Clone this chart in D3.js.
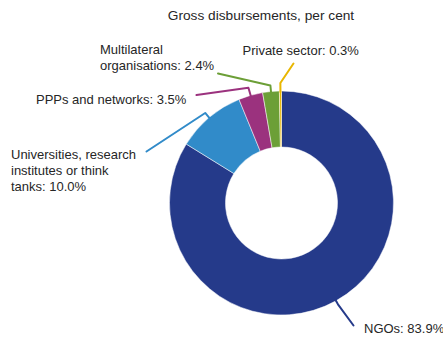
<!DOCTYPE html>
<html>
<head>
<meta charset="utf-8">
<script src="https://cdn.jsdelivr.net/npm/d3@7/dist/d3.min.js"></script>
<style>
  html, body { margin: 0; padding: 0; background: #fff; }
  svg { display: block; }
  text { font-family: "Liberation Sans", Arial, sans-serif; font-size: 13px; fill: #262626; }
</style>
</head>
<body>
<svg id="chart" width="443" height="337"></svg>
<script>
// ---- data ----
const categories = ["NGOs", "Universities, research institutes or think tanks", "PPPs and networks", "Multilateral organisations", "Private sector"];
const values = [83.9, 10.0, 3.5, 2.4, 0.3];
const colors = ["#253a8a", "#318bc9", "#9b327e", "#6c9f37", "#e8b600"];
const labelLines = [
  ["NGOs: 83.9%"],
  ["Universities, research", "institutes or think", "tanks: 10.0%"],
  ["PPPs and networks: 3.5%"],
  ["Multilateral", "organisations: 2.4%"],
  ["Private sector: 0.3%"]
];
const title = "Gross disbursements, per cent";

// ---- layout (positions, not data) ----
const cx = 281.5, cy = 203, outerR = 112, innerR = 56;
// label anchor (x, first baseline), leader end point, elbow length
const labelLayout = [
  { x: 364, y: 333, end: [353.5, 325.5], elbow: 4 },
  { x: 11, y: 158.5, end: [146.5, 151.5], elbow: 6 },
  { x: 36, y: 103.5, end: [196.5, 95], elbow: 8 },
  { x: 100, y: 53.5, end: [218, 73.5], elbow: 6 },
  { x: 242.5, y: 55, end: [293.5, 63.5], elbow: 8 }
];

const svg = d3.select("#chart");

svg.append("text")
  .attr("x", 261).attr("y", 20)
  .attr("text-anchor", "middle")
  .style("font-size", "13.7px")
  .text(title);

const pie = d3.pie().sort(null).value(d => d);
const arcs = pie(values);
const arc = d3.arc().innerRadius(innerR).outerRadius(outerR);

const g = svg.append("g").attr("transform", `translate(${cx},${cy})`);
g.selectAll("path.slice")
  .data(arcs)
  .enter().append("path")
  .attr("class", "slice")
  .attr("d", arc)
  .attr("fill", (d, i) => colors[i])
  .attr("stroke", "#ffffff")
  .attr("stroke-width", 0.5);

// leader lines
const line = d3.line().curve(d3.curveLinear);
arcs.forEach((d, i) => {
  const a = (d.startAngle + d.endAngle) / 2;
  const L = labelLayout[i];
  const p0 = [cx + Math.sin(a) * (outerR - 1), cy - Math.cos(a) * (outerR - 1)];
  const p1 = [cx + Math.sin(a) * (outerR + L.elbow), cy - Math.cos(a) * (outerR + L.elbow)];
  svg.append("path")
    .attr("d", line([p0, p1, L.end]))
    .attr("fill", "none")
    .attr("stroke", colors[i])
    .attr("stroke-width", 2)
    .attr("stroke-linejoin", "round")
    .attr("stroke-linecap", "round");
});

// labels
labelLines.forEach((lines, i) => {
  const L = labelLayout[i];
  const t = svg.append("text").attr("x", L.x).attr("y", L.y);
  lines.forEach((s, k) => {
    t.append("tspan").attr("x", L.x).attr("y", L.y + k * 16).text(s);
  });
});
</script>
</body>
</html>
